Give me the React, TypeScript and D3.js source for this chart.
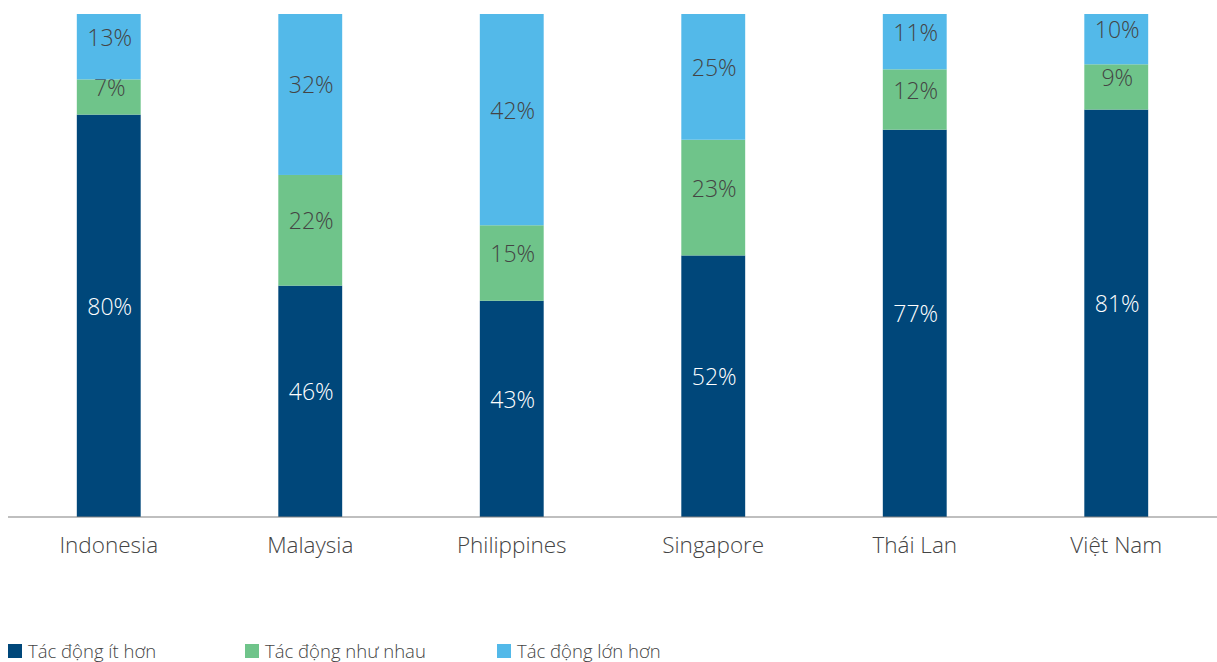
import React from "react";
import * as d3 from "d3";

const categories = ["Indonesia", "Malaysia", "Philippines", "Singapore", "Thái Lan", "Việt Nam"];
const lessImpact = [80, 46, 43, 52, 77, 81];
const sameImpact = [7, 22, 15, 23, 12, 9];
const moreImpact = [13, 32, 42, 25, 11, 10];
const seriesNames = ["Tác động ít hơn", "Tác động như nhau", "Tác động lớn hơn"];
const seriesColors = ["#00477a", "#6fc48a", "#53b9e9"];
const labelColors = ["#ffffff", "#444444", "#444444"];

const W = 1217;
const H = 662;
const FONT = "'Open Sans', sans-serif";

export default function App() {
  const x = d3.scaleBand<string>().domain(categories).range([8, 1217]).paddingInner(0.683).paddingOuter(0.3415);
  const y = d3.scaleLinear().domain([0, 100]).range([517, 14]);

  const rows = categories.map((c, i) => ({ cat: c, s0: lessImpact[i], s1: sameImpact[i], s2: moreImpact[i] }));
  const stack = d3.stack<any>().keys(["s0", "s1", "s2"]);
  const layers = stack(rows);

  const legendX = [8, 245, 497];

  return (
    <svg width={W} height={H} style={{ position: "absolute", left: 0, top: 0, background: "#fff" }}>
      {layers.map((layer, li) => (
        <g key={li}>
          {layer.map((d, i) => {
            const x0 = x(categories[i])!;
            const y0 = y(d[1]);
            const h = y(d[0]) - y(d[1]);
            const v = d[1] - d[0];
            return (
              <g key={i}>
                <rect x={x0} y={y0} width={x.bandwidth()} height={h} fill={seriesColors[li]} />
                <text
                  x={x0 + x.bandwidth() / 2 + 1}
                  y={y0 + h / 2 - 1}
                  textAnchor="middle"
                  fontFamily={FONT}
                  fontWeight={300}
                  fontSize={23}
                  fill={labelColors[li]}
                >
                  {v}%
                </text>
              </g>
            );
          })}
        </g>
      ))}
      <line x1={8} x2={1217} y1={517} y2={517} stroke="#808080" strokeWidth={1.2} />
      {categories.map((c) => (
        <text
          key={c}
          x={x(c)! + x.bandwidth() / 2}
          y={553}
          textAnchor="middle"
          fontFamily={FONT}
          fontWeight={300}
          fontSize={22.5}
          fill="#444"
        >
          {c}
        </text>
      ))}
      {seriesNames.map((n, i) => (
        <g key={n}>
          <rect x={legendX[i]} y={644} width={14} height={14} fill={seriesColors[i]} />
          <text x={legendX[i] + 20} y={658} fontFamily={FONT} fontWeight={300} fontSize={18.5} fill="#444">
            {n}
          </text>
        </g>
      ))}
    </svg>
  );
}
